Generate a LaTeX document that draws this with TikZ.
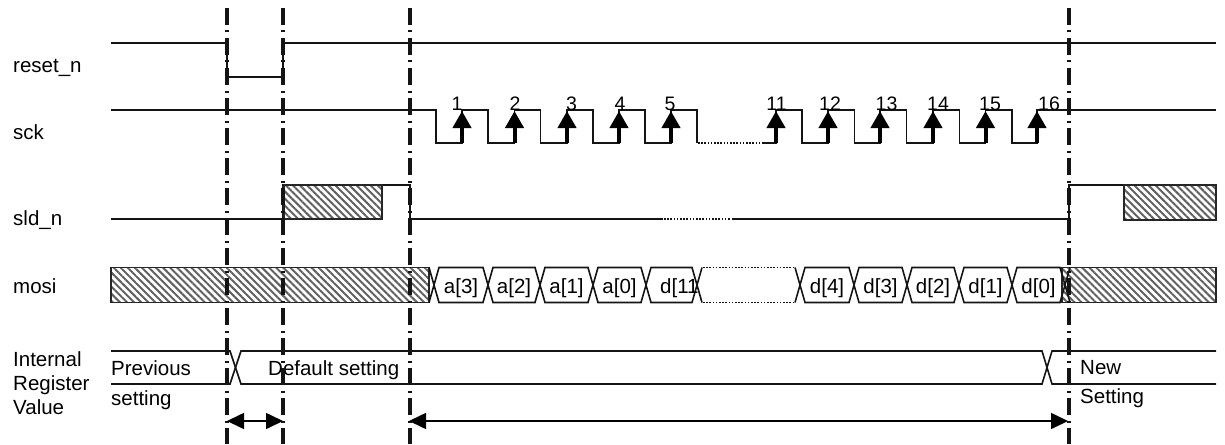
\documentclass[tikz,border=0pt]{standalone}
\usepackage{fontspec}
\setmainfont{Liberation Sans}
\usetikzlibrary{arrows.meta,patterns.meta}
\begin{document}
\begin{tikzpicture}[x=1pt,y=-1pt,
  sig/.style={line width=1.6pt,draw=black!92,line join=miter},
  dotsig/.style={line width=1.8pt,draw=black!92,dash pattern=on 1.6pt off 1.6pt},
  hatch/.style={line width=1.2pt,draw=black!85,pattern={Lines[angle=-45,distance=5pt,line width=2pt]},pattern color=black!62},
  guide/.style={line width=3.4pt,draw=black!92,dash pattern=on 17pt off 5.5pt on 2pt off 5.5pt},
  lbl/.style={font=\fontsize{20.5}{24}\selectfont,inner sep=0pt,anchor=base west},
  num/.style={font=\fontsize{19.5}{22}\selectfont,inner sep=0pt,anchor=base},
  clk/.style={line width=4pt,draw=black,-{Triangle[length=17pt,width=18pt]}},
  span/.style={line width=1.6pt,draw=black,{Triangle[length=17pt,width=16pt]}-{Triangle[length=17pt,width=16pt]}}
]
\useasboundingbox (0,0) rectangle (1225,444);
% labels
\node[lbl] (lreset) at (13,73) {reset\_n};
\node[lbl] (lsck) at (13,139) {sck};
\node[lbl] (lsld) at (13,225) {sld\_n};
\node[lbl] (lmosi) at (13,293) {mosi};
\node[lbl] (lint) at (13,366) {Internal};
\node[lbl] (lreg) at (13,390) {Register};
\node[lbl] (lval) at (13,414) {Value};
% reset_n
\draw[sig] (111,43)--(227,43)--(227,77)--(283,77)--(283,43)--(1216,43);
% sck
\draw[sig] (111,110)--(436,110)--(436,143)
  \foreach \r in {462,514.5,567,619,671}{ --(\r,143)--(\r,110)--(\r+26,110)--(\r+26,143) };
\draw[dotsig] (698,143)--(763,143);
\draw[sig] (763,143)--(776,143)--(776,110)--(802,110)--(802,143)
  \foreach \r in {828,880,933,985.5}{ --(\r,143)--(\r,110)--(\r+26.5,110)--(\r+26.5,143) }
  --(1037,143)--(1037,110)--(1216,110);
\foreach \r in {462,514.5,567,619,671,776,828,880,933,985.5,1037}
  \draw[clk] (\r,143)--(\r,111);
\foreach \n/\x in {1/457,2/515,3/571.5,4/620,5/670,11/776.5,12/830,13/886.5,14/938,15/990,16/1049}
  \node[num] (n\n) at (\x,110) {\n};
% sld_n
\draw[sig] (111,219)--(283,219)--(283,185)--(410,185)--(410,219)--(663,219);
\draw[dotsig] (664,219)--(731,219);
\draw[sig] (732,219)--(1069,219)--(1069,185)--(1124,185);
\draw[hatch] (284,185) rectangle (382,219);
\draw[hatch] (1124,185) rectangle (1216,220);
% mosi
\draw[hatch] (111,267.5) rectangle (429,302.5);
\draw[hatch] (1062,267.5) rectangle (1216,302.5);
\foreach \a/\b in {434/488,488/540,540/593,593/646,646/697,800/854,854/907,907/959,959/1012,1012/1065}
  \draw[sig] (\a,285)--(\a+5,267.5)--(\b-5,267.5)--(\b,285)--(\b-5,302.5)--(\a+5,302.5)--cycle;
\draw[sig] (429,267.5)--(434,285)--(429,302.5);
\draw[sig] (1070,267.5)--(1065,285)--(1070,302.5);
\draw[sig] (702,267.5)--(697,285)--(702,302.5);
\draw[sig] (795,267.5)--(800,285)--(795,302.5);
\draw[dotsig] (703,267.5)--(794,267.5);
\draw[dotsig] (703,302.5)--(794,302.5);
\foreach \t/\x [count=\i] in {a[3]/461,a[2]/514,a[1]/566.5,a[0]/619.5,d[4]/827,d[3]/880.5,d[2]/933,d[1]/985.5,d[0]/1038.5}
  \node[lbl,anchor=base] (m\i) at (\x,293) {\t};
\node[lbl] (md11) at (660,293) {d[11};
% internal register
\draw[sig] (111,351)--(230,351)--(241,384)--(1042,384)--(1052,351)--(1216,351);
\draw[sig] (111,384)--(230,384)--(241,351)--(1042,351)--(1052,384)--(1216,384);
\node[lbl] (prev) at (111,375) {Previous};
\node[lbl] (prev2) at (111,405) {setting};
\node[lbl] (def) at (268,375) {Default setting};
\node[lbl] (new) at (1080,374) {New};
\node[lbl] (new2) at (1080,403) {Setting};
% guides
\coordinate (g1t) at (227,8); \coordinate (g1b) at (227,444);
\coordinate (g2t) at (283,8); \coordinate (g2b) at (283,444);
\coordinate (g3t) at (410,8); \coordinate (g3b) at (410,444);
\coordinate (g4t) at (1069,8); \coordinate (g4b) at (1069,444);
\draw[guide] (g1t)--(g1b);
\draw[guide] (g2t)--(g2b);
\draw[guide] (g3t)--(g3b);
\draw[guide] (g4t)--(g4b);
% spans
\coordinate (s1a) at (227,421); \coordinate (s1b) at (283,421);
\coordinate (s2a) at (409,421); \coordinate (s2b) at (1068,421);
\draw[span] (s1a)--(s1b);
\draw[span] (s2a)--(s2b);
\end{tikzpicture}
\end{document}
